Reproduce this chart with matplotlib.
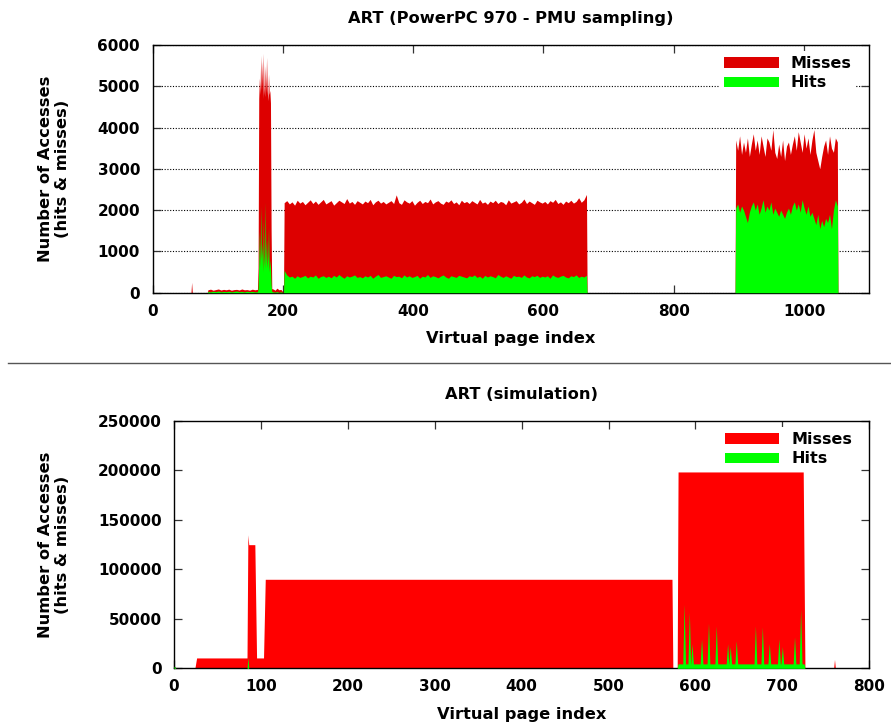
import numpy as np
import matplotlib
matplotlib.use("Agg")
import matplotlib.pyplot as plt
from matplotlib.patches import Patch
from matplotlib.lines import Line2D

plt.rcParams["font.family"] = ["DejaVu Sans"]
plt.rcParams["font.weight"] = "bold"
plt.rcParams["axes.labelweight"] = "bold"
plt.rcParams["axes.titleweight"] = "bold"

MISS_PMU = "#dd0000"
MISS_SIM = "#ff0000"
HIT_COLOR = "#00ff00"

# ---------------- PMU sampling (PowerPC 970) ----------------
# pages where nothing was sampled (used to close the filled areas)
pmu_quiet_pages = [0, 59, 61, 84, 201, 667, 894, 1052, 1100]

# isolated sample near page 60
pmu_blip_start, pmu_blip_step = 60, 1
pmu_blip_total = [250]
pmu_blip_hits = [0]

# low activity before the hot region
pmu_low_start, pmu_low_step = 85, 4
pmu_low_total = [70, 85, 60, 75, 90, 65, 80, 70, 85, 60,
                 75, 80, 65, 90, 70, 75, 60, 85, 70, 80]
pmu_low_hits = [30, 20, 35, 25, 40, 20, 30, 25, 35, 20,
                30, 40, 25, 30, 20, 35, 25, 30, 20, 25]

# hot pages 162-183
pmu_hot_start, pmu_hot_step = 162, 1
pmu_hot_total = [600, 4700, 5200, 4800, 5750, 4900, 5600, 4700, 5800, 5000, 4750,
                 5500, 4850, 5700, 4900, 4650, 5300, 4800, 4900, 4600, 1500, 100]
pmu_hot_hits = [100, 700, 1500, 600, 2100, 800, 1200, 500, 1800, 900, 600,
                2200, 700, 1300, 600, 900, 1600, 500, 800, 600, 200, 30]

pmu_post_start, pmu_post_step = 185, 3
pmu_post_total = [90, 60, 110, 70, 80]
pmu_post_hits = [20, 15, 25, 10, 20]

# first large block, pages 202-666
pmu_a_start, pmu_a_step = 202, 4
pmu_a_total = [
    2180, 2230, 2150, 2200, 2120, 2240, 2170, 2210, 2130, 2190,
    2250, 2160, 2220, 2140, 2200, 2260, 2150, 2190, 2230, 2120,
    2180, 2240, 2200, 2160, 2280, 2170, 2210, 2140, 2230, 2190,
    2150, 2220, 2180, 2260, 2130, 2200, 2240, 2170, 2210, 2150,
    2190, 2230, 2160, 2370, 2180, 2140, 2250, 2200, 2170, 2230,
    2120, 2190, 2240, 2160, 2210, 2180, 2270, 2150, 2200, 2230,
    2170, 2140, 2220, 2190, 2250, 2160, 2200, 2130, 2240, 2180,
    2210, 2160, 2230, 2190, 2150, 2260, 2170, 2200, 2140, 2220,
    2180, 2240, 2160, 2210, 2190, 2130, 2250, 2170, 2200, 2230,
    2150, 2190, 2270, 2160, 2220, 2180, 2140, 2240, 2200, 2170,
    2210, 2150, 2230, 2190, 2260, 2160, 2200, 2140, 2220, 2180,
    2240, 2170, 2210, 2300, 2190, 2250, 2380,
]
pmu_a_hits = [
    540, 430, 380, 400, 350, 410, 370, 390, 420, 360,
    400, 380, 430, 350, 390, 410, 370, 400, 360, 420,
    380, 440, 390, 350, 410, 380, 400, 430, 370, 390,
    360, 410, 380, 420, 350, 400, 440, 370, 390, 410,
    380, 350, 420, 390, 400, 360, 430, 380, 410, 370,
    390, 420, 350, 400, 380, 440, 370, 410, 390, 360,
    400, 430, 380, 350, 410, 390, 370, 420, 400, 380,
    360, 410, 390, 430, 370, 400, 350, 420, 380, 410,
    390, 360, 440, 400, 370, 410, 380, 350, 420, 390,
    400, 370, 430, 380, 360, 410, 390, 420, 370, 400,
    380, 410, 350, 430, 390, 370, 400, 420, 380, 360,
    410, 390, 430, 370, 400, 380, 420,
]

# second large block, pages 895-1051
pmu_b_start, pmu_b_step = 895, 3
pmu_b_total = [
    3700, 3450, 3800, 3350, 3650, 3400, 3750, 3300, 3600, 3850,
    3450, 3700, 3350, 3800, 3550, 3300, 3750, 3650, 3450, 3950,
    3400, 3250, 3600, 3300, 3700, 3200, 3550, 3650, 3350, 3600,
    3800, 3450, 3900, 3650, 3400, 3850, 3500, 3750, 3350, 3700,
    3950, 3400, 3200, 3000, 3300, 3550, 3700, 3350, 3800, 3500,
    3400, 3750, 3650,
]
pmu_b_hits = [
    2050, 2150, 1950, 2100, 2000, 1850, 1700, 1950, 2100, 2200,
    2000, 2150, 1900, 2050, 2250, 1950, 2100, 2000, 2200, 1900,
    2050, 1950, 1850, 2000, 1900, 1800, 1950, 2050, 1900, 2100,
    2200, 2000, 2150, 1950, 2250, 2050, 1900, 2100, 1850, 1950,
    1800, 1650, 1900, 1550, 1750, 1600, 1800, 1700, 1900, 1550,
    2000, 2250, 2100,
]

# ---------------- simulation ----------------
sim_pages = [0, 1, 2, 24, 26, 84, 85, 86, 93, 95, 103, 105,
             573, 574, 579, 580, 724, 726, 759, 760, 761, 800]
sim_total = [2500, 1500, 0, 0, 10500, 10500, 135000, 125000, 125000, 10500, 10500, 90000,
             90000, 0, 0, 198500, 198500, 0, 0, 9000, 0, 0]

sim_hit_pages = [0, 1, 2, 84, 85, 86, 579, 580, 725, 726, 800]
sim_hit_values = [2000, 1500, 0, 0, 11000, 0, 0, 4500, 4500, 0, 0]
sim_hit_base = 4500
sim_spike_pages = [587, 593, 596, 607, 615, 624, 637, 640, 647, 669, 677, 685, 696, 700, 714, 721]
sim_spike_hits = [65000, 57000, 25000, 30000, 46000, 43000, 25000, 22000,
                  28000, 43000, 42000, 25000, 30000, 22000, 32000, 60000]
SPIKE_HALF_WIDTH = 1.6


def build_pmu_series():
    segments = [
        (pmu_blip_start, pmu_blip_step, pmu_blip_total, pmu_blip_hits),
        (pmu_low_start, pmu_low_step, pmu_low_total, pmu_low_hits),
        (pmu_hot_start, pmu_hot_step, pmu_hot_total, pmu_hot_hits),
        (pmu_post_start, pmu_post_step, pmu_post_total, pmu_post_hits),
        (pmu_a_start, pmu_a_step, pmu_a_total, pmu_a_hits),
        (pmu_b_start, pmu_b_step, pmu_b_total, pmu_b_hits),
    ]
    pages = [np.array(pmu_quiet_pages, dtype=float)]
    totals = [np.zeros(len(pmu_quiet_pages))]
    hits = [np.zeros(len(pmu_quiet_pages))]
    for start, step, tot, hit in segments:
        pages.append(start + step * np.arange(len(tot), dtype=float))
        totals.append(np.array(tot, dtype=float))
        hits.append(np.array(hit, dtype=float))
    x = np.concatenate(pages)
    order = np.argsort(x, kind="stable")
    return x[order], np.concatenate(totals)[order], np.concatenate(hits)[order]


def build_sim_hits():
    xs = list(sim_hit_pages)
    ys = list(sim_hit_values)
    for p, v in zip(sim_spike_pages, sim_spike_hits):
        xs += [p - SPIKE_HALF_WIDTH, p, p + SPIKE_HALF_WIDTH]
        ys += [sim_hit_base, v, sim_hit_base]
    xs = np.array(xs, dtype=float)
    ys = np.array(ys, dtype=float)
    order = np.argsort(xs, kind="stable")
    return xs[order], ys[order]


def style_axes(ax):
    for s in ax.spines.values():
        s.set_linewidth(1.0)
        s.set_color("black")
    ax.tick_params(direction="in", length=5.5, width=0.9, color="#333333",
                   top=True, right=True, labelsize=11, pad=8)
    ax.tick_params(axis="y", pad=9)


def add_legend(ax, miss_color, anchor):
    handles = [Patch(facecolor=miss_color, edgecolor="none"),
               Patch(facecolor=HIT_COLOR, edgecolor="none")]
    leg = ax.legend(handles, ["Misses", "Hits"], loc="upper right", bbox_to_anchor=anchor,
                    frameon=True, fancybox=False, framealpha=1, facecolor="white",
                    edgecolor="none", prop={"size": 11.5, "weight": "bold"},
                    handlelength=3.4, handleheight=0.62, labelspacing=0.28,
                    borderpad=0.3, handletextpad=0.75, borderaxespad=0)
    leg.set_zorder(5)


LABEL_SIZE = 11.7

fig = plt.figure(figsize=(8.91, 7.27), dpi=100)

# ---- top panel ----
ax1 = fig.add_axes([0.1712, 0.5974, 0.8044, 0.3407])
px, ptot, phit = build_pmu_series()
ax1.fill_between(px, 0, ptot, color=MISS_PMU, lw=0, zorder=2)
ax1.fill_between(px, 0, phit, color=HIT_COLOR, lw=0, zorder=3)
ax1.set_xlim(0, 1100)
ax1.set_ylim(0, 6000)
ax1.set_xticks(range(0, 1001, 200))
ax1.set_yticks(range(0, 6001, 1000))
ax1.yaxis.grid(True, linestyle=(0, (1, 1.5)), linewidth=0.8, color="black")
ax1.set_axisbelow(True)
style_axes(ax1)
ax1.set_title("ART (PowerPC 970 - PMU sampling)", fontsize=LABEL_SIZE, pad=16)
ax1.set_xlabel("Virtual page index", fontsize=LABEL_SIZE, labelpad=9)
ax1.set_ylabel("Number of Accesses\n(hits & misses)", fontsize=LABEL_SIZE, linespacing=1.1)
ax1.yaxis.set_label_coords((54 - 152.5) / 716.8, 0.5)
ax1.yaxis.label.set_va("center")
add_legend(ax1, MISS_PMU, (0.982, 0.975))

# ---- bottom panel ----
ax2 = fig.add_axes([0.1953, 0.0807, 0.7803, 0.3402])
ax2.fill_between(sim_pages, 0, sim_total, color=MISS_SIM, lw=0, zorder=2)
hx, hy = build_sim_hits()
ax2.fill_between(hx, 0, hy, color=HIT_COLOR, lw=0, zorder=3)
ax2.set_xlim(0, 800)
ax2.set_ylim(0, 250000)
ax2.set_xticks(range(0, 801, 100))
ax2.set_yticks(range(0, 250001, 50000))
style_axes(ax2)
ax2.set_title("ART (simulation)", fontsize=LABEL_SIZE, pad=16)
ax2.set_xlabel("Virtual page index", fontsize=LABEL_SIZE, labelpad=9)
ax2.set_ylabel("Number of Accesses\n(hits & misses)", fontsize=LABEL_SIZE, linespacing=1.1)
ax2.yaxis.set_label_coords((54 - 174) / 695.3, 0.5)
ax2.yaxis.label.set_va("center")
add_legend(ax2, MISS_SIM, (0.982, 0.975))

# separator between the two plots
fig.add_artist(Line2D([8 / 891, 1.0], [1 - 363 / 727] * 2, transform=fig.transFigure,
                      color="#555555", linewidth=1.0))

fig.savefig("out.png", dpi=100, facecolor="white")
